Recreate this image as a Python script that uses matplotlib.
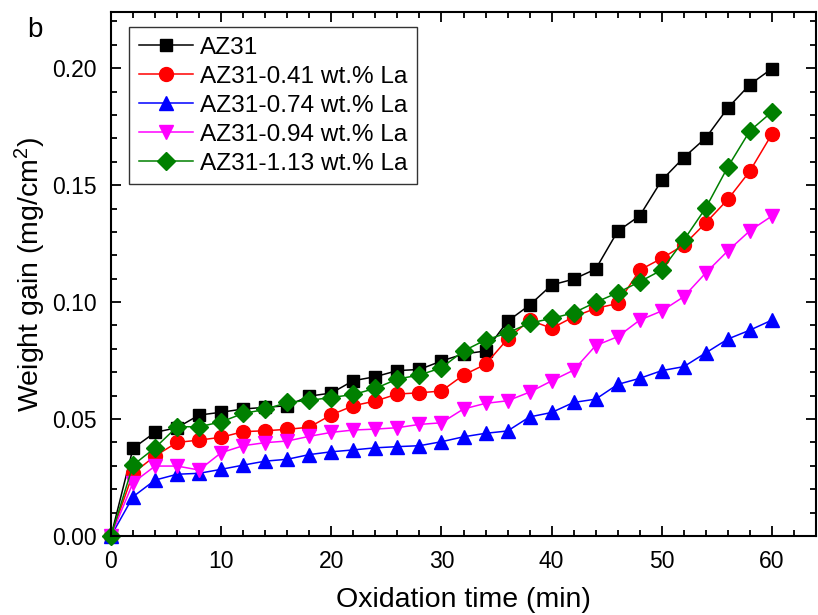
import matplotlib
matplotlib.use("Agg")
import matplotlib.pyplot as plt
from matplotlib.ticker import MultipleLocator

plt.rcParams['font.family'] = ['Liberation Sans', 'DejaVu Sans']
plt.rcParams['mathtext.fontset'] = 'custom'
plt.rcParams['mathtext.rm'] = 'Liberation Sans'
plt.rcParams['mathtext.it'] = 'Liberation Sans:italic'
plt.rcParams['mathtext.bf'] = 'Liberation Sans:bold'

time_min = list(range(0, 61, 2))

az31 = [0, 0.0375, 0.0443, 0.0463, 0.0517, 0.0529, 0.0543, 0.0550, 0.0557, 0.0598,
        0.0611, 0.0664, 0.0681, 0.0707, 0.0712, 0.0748, 0.0778, 0.0791, 0.0918, 0.0987,
        0.1073, 0.1098, 0.1141, 0.1303, 0.1369, 0.1521, 0.1618, 0.1702, 0.1830, 0.1930, 0.1998]
la041 = [0, 0.0268, 0.0342, 0.0400, 0.0410, 0.0422, 0.0446, 0.0450, 0.0456, 0.0465,
         0.0518, 0.0557, 0.0577, 0.0607, 0.0612, 0.0620, 0.0688, 0.0734, 0.0842, 0.0923,
         0.0888, 0.0937, 0.0973, 0.0994, 0.1137, 0.1187, 0.1244, 0.1339, 0.1439, 0.1560, 0.1718]
la074 = [0, 0.0168, 0.0239, 0.0264, 0.0268, 0.0285, 0.0303, 0.0320, 0.0328, 0.0348,
         0.0360, 0.0368, 0.0377, 0.0382, 0.0386, 0.0403, 0.0424, 0.0439, 0.0449, 0.0509,
         0.0528, 0.0571, 0.0585, 0.0648, 0.0674, 0.0707, 0.0724, 0.0783, 0.0842, 0.0880, 0.0923]
la094 = [0, 0.0228, 0.0299, 0.0299, 0.0282, 0.0356, 0.0386, 0.0399, 0.0406, 0.0426,
         0.0443, 0.0453, 0.0457, 0.0463, 0.0477, 0.0484, 0.0543, 0.0567, 0.0578, 0.0615,
         0.0663, 0.0709, 0.0814, 0.0852, 0.0923, 0.0962, 0.1023, 0.1125, 0.1219, 0.1305, 0.1368]
la113 = [0, 0.0303, 0.0377, 0.0467, 0.0467, 0.0488, 0.0524, 0.0541, 0.0571, 0.0580,
         0.0592, 0.0605, 0.0631, 0.0671, 0.0688, 0.0719, 0.0791, 0.0838, 0.0868, 0.0910,
         0.0930, 0.0954, 0.0999, 0.1040, 0.1087, 0.1137, 0.1265, 0.1403, 0.1578, 0.1732, 0.1813]

labels = ["AZ31", "AZ31-0.41 wt.% La", "AZ31-0.74 wt.% La",
          "AZ31-0.94 wt.% La", "AZ31-1.13 wt.% La"]
series = [az31, la041, la074, la094, la113]
colors = ["#000000", "#FF0000", "#0000FF", "#FF00FF", "#008000"]
markers = ["s", "o", "^", "v", "D"]
msizes = [9, 10, 10, 10, 9]

fig = plt.figure(figsize=(8.18, 6.15), dpi=100)
ax = fig.add_axes([111/818, 1-536/615, (816-111)/818, (536-12)/615])

for y, lab, c, m, ms in zip(series, labels, colors, markers, msizes):
    ax.plot(time_min, y, color=c, marker=m, markersize=ms, linewidth=1.1,
            label=lab, clip_on=False)

ax.set_xlim(0, 64)
ax.set_ylim(0, 0.224)
ax.xaxis.set_major_locator(MultipleLocator(10))
ax.xaxis.set_minor_locator(MultipleLocator(2))
ax.yaxis.set_major_locator(MultipleLocator(0.05))
ax.yaxis.set_minor_locator(MultipleLocator(0.01))
ax.yaxis.set_major_formatter(matplotlib.ticker.FormatStrFormatter('%.2f'))
ax.tick_params(which='both', direction='in', top=True, right=True, labelsize=16.5, width=1.3)
ax.tick_params(which='major', length=7)
ax.tick_params(which='minor', length=4)
ax.tick_params(axis='x', pad=10)
ax.tick_params(axis='y', pad=10)
for s in ax.spines.values():
    s.set_linewidth(1.5)

ax.set_xlabel("Oxidation time (min)", fontsize=20.5, labelpad=10)
ax.set_ylabel("Weight gain (mg/cm$^2$)", fontsize=20.5, labelpad=3)

leg = ax.legend(loc='upper left', bbox_to_anchor=(18/705, 1-15/524), borderaxespad=0,
                fontsize=17.6, frameon=True, fancybox=False, edgecolor='black',
                handlelength=2.2, handletextpad=0.3, labelspacing=0.28, borderpad=0.4)
leg.get_frame().set_linewidth(1.0)

fig.text(35/818, 1-30/615, "b", fontsize=20, ha='center', va='center')

fig.savefig("out.png", dpi=100)
